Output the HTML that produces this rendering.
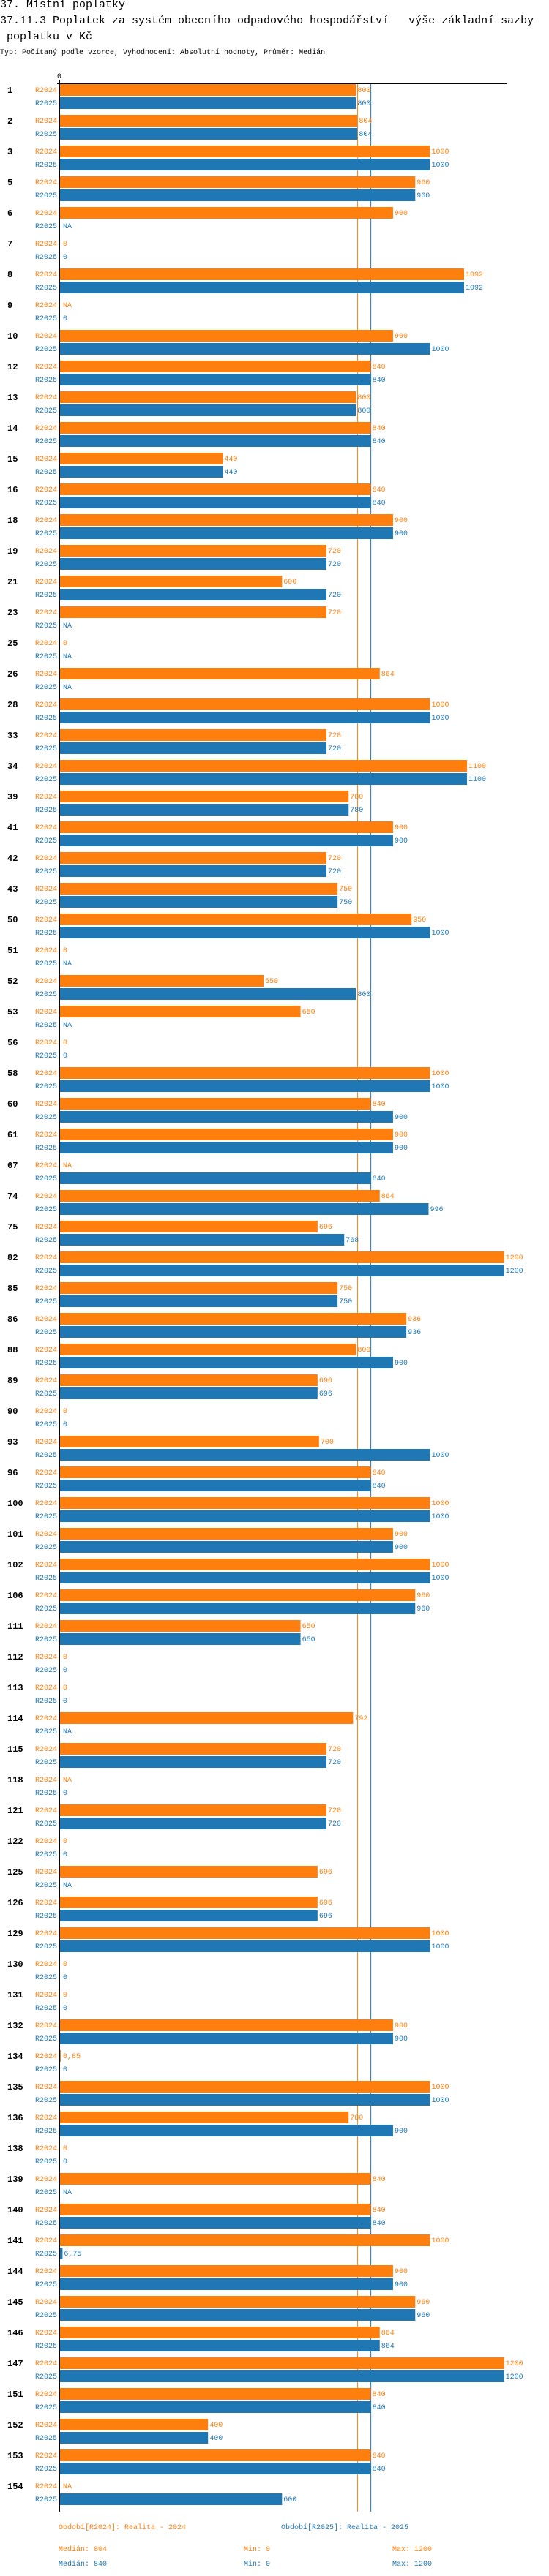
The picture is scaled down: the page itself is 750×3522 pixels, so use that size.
<!DOCTYPE html>
<html lang="cs">
<head>
<meta charset="utf-8">
<style>
  html,body{margin:0;padding:0;background:#fff;}
  body{width:750px;height:3522px;overflow:hidden;position:relative;font-family:"Liberation Mono","DejaVu Sans Mono",monospace;}
  .t{position:absolute;left:0;white-space:pre;color:#000;}
  svg{position:absolute;left:0;top:0;}
</style>
</head>
<body>
<div class="t" style="top:-2px;font-size:15px;">37. Místní poplatky</div>
<div class="t" style="top:20px;font-size:15px;">37.11.3 Poplatek za systém obecního odpadového hospodářství   výše základní sazby</div>
<div class="t" style="top:42px;font-size:15px;"> poplatku v Kč</div>
<div class="t" style="top:67px;font-size:10px;">Typ: Počítaný podle vzorce, Vyhodnocení: Absolutní hodnoty, Průměr: Medián</div>

<svg id="chart" width="750" height="3522"></svg>

<script>
const categories = ["1","2","3","5","6","7","8","9","10","12","13","14","15","16","18","19","21","23","25","26","28","33","34","39","41","42","43","50","51","52","53","56","58","60","61","67","74","75","82","85","86","88","89","90","93","96","100","101","102","106","111","112","113","114","115","118","121","122","125","126","129","130","131","132","134","135","136","138","139","140","141","144","145","146","147","151","152","153","154"];
const values2024 = [800,804,1000,960,900,0,1092,null,900,840,800,840,440,840,900,720,600,720,0,864,1000,720,1100,780,900,720,750,950,0,550,650,0,1000,840,900,null,864,696,1200,750,936,800,696,0,700,840,1000,900,1000,960,650,0,0,792,720,null,720,0,696,696,1000,0,0,900,0.85,1000,780,0,840,840,1000,900,960,864,1200,840,400,840,null];
const values2025 = [800,804,1000,960,null,0,1092,0,1000,840,800,840,440,840,900,720,720,null,null,null,1000,720,1100,780,900,720,750,1000,null,800,null,0,1000,900,900,840,996,768,1200,750,936,900,696,0,1000,840,1000,900,1000,960,650,0,0,null,720,0,720,0,null,696,1000,0,0,900,0,1000,900,0,null,840,6.75,900,960,864,1200,840,400,840,600];
const median2024 = 804;
const median2025 = 840;
const tickLabels = ["0"];

const NS = "http://www.w3.org/2000/svg";
const svg = document.getElementById("chart");
const X0 = 82, K = 0.5055, TOP = 115, PITCH = 42;
const ORANGE = "#ff7f0e", BLUE = "#1f77b4";
const xScale = v => X0 + v * K;
const yRow = (i, s) => TOP + i * PITCH + s * 18;
const fmt = v => String(v).replace(".", ",");

function mk(tag, attrs, text){
  const e = document.createElementNS(NS, tag);
  for (const k in attrs) e.setAttribute(k, attrs[k]);
  if (text !== undefined) e.textContent = text;
  svg.appendChild(e);
  return e;
}
const FONT = '"Liberation Mono","DejaVu Sans Mono",monospace';
const bottom = yRow(categories.length - 1, 1) + 25;

// median lines
let ml = mk("line", {x1: xScale(median2024), x2: xScale(median2024), y1: 114, y2: bottom, stroke: ORANGE, "stroke-width": 1});


ml = mk("line", {x1: xScale(median2025), x2: xScale(median2025), y1: 114, y2: bottom, stroke: BLUE, "stroke-width": 1});



// bars
categories.forEach((c, i) => {
  const gl = mk("text", {x: 10, y: yRow(i,0) + 12, "font-size": 12, "font-weight": "bold", "font-family": FONT, fill: "#000"}, c);
  
  
  [[values2024, "R2024", ORANGE, 0], [values2025, "R2025", BLUE, 1]].forEach(([arr, name, col, s]) => {
    const y = yRow(i, s);
    const v = arr[i];
    const sl = mk("text", {x: 78, y: y + 11, "font-size": 10, "font-family": FONT, fill: col, "text-anchor": "end"}, name);
    
    
    let endX = X0 + 2;
    if (v !== null && v > 0) {
      const r = mk("rect", {x: X0, y: y, width: Math.max(1, xScale(v) - X0), height: 16, fill: col});
      
      
      endX = xScale(v) + 2;
    }
    const vl = mk("text", {x: Math.max(endX, 86), y: y + 11, "font-size": 10, "font-family": FONT, fill: col}, v === null ? "NA" : fmt(v));
    
    
  });
});

// axes
let ax = mk("line", {x1: 78, x2: 693, y1: 114.5, y2: 114.5, stroke: "#000", "stroke-width": 1});


ax = mk("line", {x1: 81, x2: 81, y1: 110, y2: bottom, stroke: "#000", "stroke-width": 2});


tickLabels.forEach(t => {
  const tl = mk("text", {x: xScale(Number(t)) - 1, y: 107, "font-size": 10, "font-family": FONT, fill: "#000", "text-anchor": "middle"}, t);
  
  
});

// legend
const L = [
  [80, 3458, ORANGE, "Období[R2024]: Realita - 2024", "legend-r2024"],
  [384, 3458, BLUE, "Období[R2025]: Realita - 2025", "legend-r2025"],
  [80, 3488, ORANGE, "Medián: 804", "median-r2024"],
  [333, 3488, ORANGE, "Min: 0", "min-r2024"],
  [536, 3488, ORANGE, "Max: 1200", "max-r2024"],
  [80, 3508, BLUE, "Medián: 840", "median-r2025"],
  [333, 3508, BLUE, "Min: 0", "min-r2025"],
  [536, 3508, BLUE, "Max: 1200", "max-r2025"]
];
L.forEach(([x, y, col, txt, nm]) => {
  const e = mk("text", {x: x, y: y, "font-size": 10, "font-family": FONT, fill: col}, txt);
  
  
});
</script>
</body>
</html>
